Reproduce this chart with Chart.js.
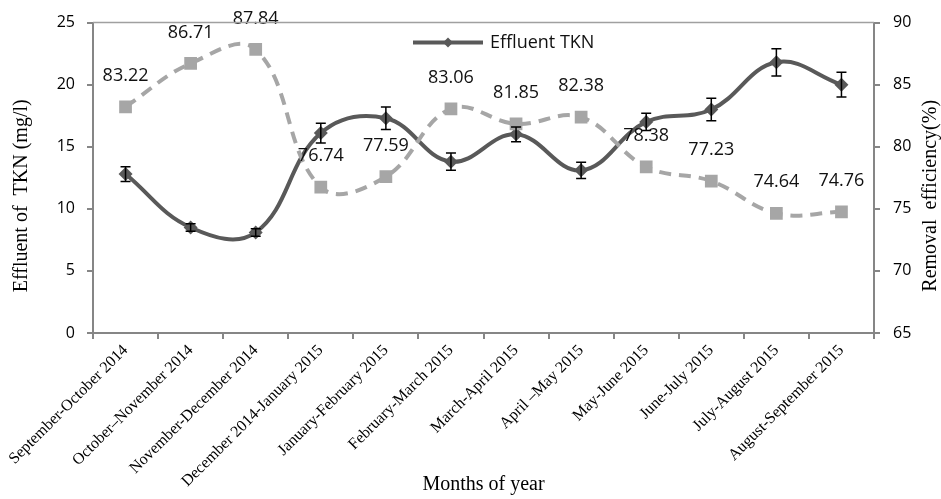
<!DOCTYPE html>
<html>
<head>
<meta charset="utf-8">
<script src="https://cdn.jsdelivr.net/npm/chart.js@4.4.1/dist/chart.umd.min.js"></script>
<style>
  html, body { margin: 0; padding: 0; background: #fff; }
  #wrap { width: 941px; height: 499px; }
</style>
</head>
<body>
<div id="wrap"><canvas id="chart" width="941" height="499"></canvas></div>
<script>
// ---------- values ----------
const months = [
  "September-October 2014",
  "October\u2013November 2014",
  "November-December 2014",
  "December 2014-January 2015",
  "January-February 2015",
  "February-March 2015",
  "March-April 2015",
  "April \u2013May 2015",
  "May-June 2015",
  "June-July 2015",
  "July-August 2015",
  "August-September 2015",
];
const tknMean = [12.8, 8.5, 8.1, 16.1, 17.3, 13.8, 16.0, 13.1, 17.0, 18.0, 21.8, 20.0];
const tknErr = [0.6, 0.3, 0.3, 0.8, 0.9, 0.7, 0.6, 0.65, 0.7, 0.9, 1.1, 1.0];
const removalEff = [83.22, 86.71, 87.84, 76.74, 77.59, 83.06, 81.85, 82.38, 78.38, 77.23, 74.64, 74.76];
const leftTitle = "Effluent of  TKN (mg/l)";
const rightTitle = "Removal  efficiency(%)";

// ---------- colours ----------
const darkGray = "#595959";
const lightGray = "#a6a6a6";
const axisGray = "#868686";
const labelFont = "'Open Sans', 'Liberation Sans', sans-serif";
const serifFont = "'Liberation Serif', 'DejaVu Serif', serif";

// error bars on the TKN series, drawn through the y scale
const errorBars = {
  id: "errorBars",
  afterDatasetsDraw(chart) {
    const meta = chart.getDatasetMeta(0);
    const y = chart.scales.yTkn;
    const ctx = chart.ctx;
    ctx.save();
    ctx.strokeStyle = "#000";
    ctx.lineWidth = 1.5;
    meta.data.forEach((pt, i) => {
      const top = y.getPixelForValue(tknMean[i] + tknErr[i]);
      const bot = y.getPixelForValue(tknMean[i] - tknErr[i]);
      ctx.beginPath();
      ctx.moveTo(pt.x, top); ctx.lineTo(pt.x, bot);
      ctx.moveTo(pt.x - 5, top); ctx.lineTo(pt.x + 5, top);
      ctx.moveTo(pt.x - 5, bot); ctx.lineTo(pt.x + 5, bot);
      ctx.stroke();
    });
    ctx.restore();
  },
};

// value labels above the removal efficiency points
const valueLabels = {
  id: "valueLabels",
  afterDatasetsDraw(chart) {
    const meta = chart.getDatasetMeta(1);
    const ctx = chart.ctx;
    ctx.save();
    ctx.fillStyle = "#111";
    ctx.font = "18px " + labelFont;
    ctx.textAlign = "center";
    ctx.textBaseline = "middle";
    meta.data.forEach((pt, i) => {
      ctx.fillText(removalEff[i].toFixed(2), pt.x, pt.y - 31);
    });
    ctx.restore();
  },
};

// vertical axis titles, both reading bottom to top and sitting a bit low like the original
function drawVTitle(ctx, text, x, y) {
  ctx.save();
  ctx.translate(x, y);
  ctx.rotate(-Math.PI / 2);
  ctx.fillStyle = "#000";
  ctx.font = "20px " + serifFont;
  ctx.textAlign = "center";
  ctx.textBaseline = "middle";
  ctx.fillText(text, 0, 0);
  ctx.restore();
}

// top border, legend entry inside the plot, axis titles
const frameAndLegend = {
  id: "frameAndLegend",
  afterDraw(chart) {
    const { ctx, chartArea } = chart;
    ctx.save();
    ctx.strokeStyle = "#a0a0a0";
    ctx.lineWidth = 1.5;
    ctx.beginPath();
    ctx.moveTo(chartArea.left, chartArea.top);
    ctx.lineTo(chartArea.right, chartArea.top);
    ctx.stroke();

    const lx = chartArea.left + 320, ly = chartArea.top + 20;
    ctx.strokeStyle = darkGray;
    ctx.lineWidth = 4;
    ctx.beginPath();
    ctx.moveTo(lx, ly); ctx.lineTo(lx + 70, ly);
    ctx.stroke();
    ctx.fillStyle = darkGray;
    ctx.beginPath();
    ctx.moveTo(lx + 35, ly - 5); ctx.lineTo(lx + 40, ly);
    ctx.lineTo(lx + 35, ly + 5); ctx.lineTo(lx + 30, ly);
    ctx.closePath();
    ctx.fill();
    ctx.fillStyle = "#111";
    ctx.font = "18px " + labelFont;
    ctx.textAlign = "left";
    ctx.textBaseline = "middle";
    ctx.fillText(chart.data.datasets[0].label, lx + 77, ly);
    ctx.restore();

    const midY = (chartArea.top + chartArea.bottom) / 2 + 18;
    drawVTitle(ctx, leftTitle, chart.scales.yTkn.left + 22, midY);
    drawVTitle(ctx, rightTitle, chart.scales.yEff.right - 10, midY);
  },
};

const axisGrid = { drawOnChartArea: false, drawTicks: true, tickLength: 6, color: axisGray, lineWidth: 2 };
const axisBorder = { color: axisGray, width: 2 };

new Chart(document.getElementById("chart"), {
  type: "line",
  data: {
    labels: months,
    datasets: [
      {
        label: "Effluent TKN",
        data: tknMean,
        yAxisID: "yTkn",
        borderColor: darkGray,
        backgroundColor: darkGray,
        borderWidth: 4,
        tension: 0.4,
        pointStyle: "rectRot",
        pointRadius: 7,
        pointBorderWidth: 0,
        order: 1,
      },
      {
        label: "Removal efficiency",
        data: removalEff,
        yAxisID: "yEff",
        borderColor: lightGray,
        backgroundColor: lightGray,
        borderWidth: 4,
        borderDash: [12, 8],
        tension: 0.4,
        pointStyle: "rect",
        pointRadius: 9,
        pointBorderWidth: 0,
        order: 0,
      },
    ],
  },
  options: {
    responsive: false,
    animation: false,
    devicePixelRatio: 1,
    layout: { padding: { top: 18, left: 0, right: 0, bottom: 0 } },
    plugins: { legend: { display: false }, tooltip: { enabled: false } },
    scales: {
      x: {
        offset: true,
        grid: { ...axisGrid, offset: true },
        border: axisBorder,
        ticks: {
          minRotation: 45,
          maxRotation: 45,
          autoSkip: false,
          padding: 2,
          color: "#000",
          font: { family: serifFont, size: 16 },
        },
        title: {
          display: true,
          text: "Months of year",
          color: "#000",
          font: { family: serifFont, size: 20 },
          padding: { top: 0, bottom: 2 },
        },
        afterFit: (s) => { s.height = 166; },
      },
      yTkn: {
        position: "left",
        min: 0,
        max: 25,
        grid: axisGrid,
        border: axisBorder,
        ticks: { stepSize: 5, padding: 12, color: "#000", font: { family: labelFont, size: 16 } },
        afterFit: (s) => { s.width = 93; },
      },
      yEff: {
        position: "right",
        min: 65,
        max: 90,
        grid: axisGrid,
        border: axisBorder,
        ticks: { stepSize: 5, padding: 13, color: "#000", font: { family: labelFont, size: 16 } },
        afterFit: (s) => { s.width = 67; },
      },
    },
  },
  plugins: [errorBars, valueLabels, frameAndLegend],
});
</script>
</body>
</html>
